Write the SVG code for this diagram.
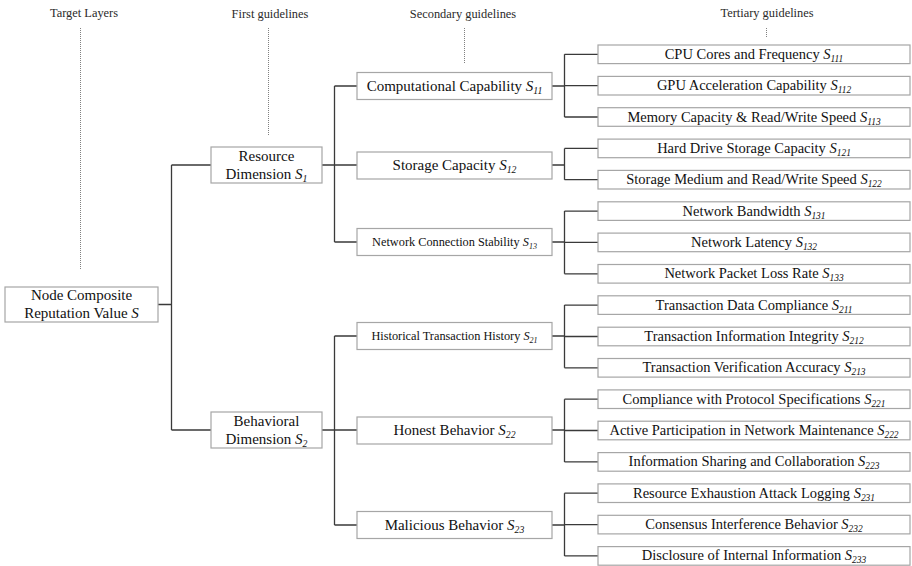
<svg xmlns="http://www.w3.org/2000/svg" width="912" height="566" viewBox="0 0 912 566">
<style>
  .bg { fill: #ffffff; }
  .box { fill: #ffffff; stroke: #a6a6a6; stroke-width: 1.2; }
  text { font-family: 'Liberation Serif', 'DejaVu Serif', 'Times New Roman', Times, serif; }
  .hdr { font-size: 12.4px; fill: #2a2a2a; text-anchor: middle; }
  .t { fill: #111111; text-anchor: middle; }
  .t3 { font-size: 14.5px; }
  .t2 { font-size: 15px; }
  .t2s { font-size: 12.3px; }
  .t1 { font-size: 15px; }
  .it { font-style: italic; }
  .sub { font-style: italic; font-size: 0.65em; }
  .dot { stroke: #808080; stroke-width: 1; stroke-dasharray: 1 1; fill: none; }
  .conn { stroke: #3a3a3a; stroke-width: 1.3; fill: none; }
</style>
<rect class="bg" x="0" y="0" width="912" height="566"/>

<g id="headers">
  <text class="hdr" x="84" y="17">Target Layers</text>
  <text class="hdr" x="270" y="18">First guidelines</text>
  <text class="hdr" x="463" y="18">Secondary guidelines</text>
  <text class="hdr" x="767" y="17">Tertiary guidelines</text>
  <line class="dot" x1="80.5" y1="28" x2="80.5" y2="270"/>
  <line class="dot" x1="268.5" y1="28" x2="268.5" y2="136"/>
  <line class="dot" x1="464.5" y1="28" x2="464.5" y2="63"/>
  <line class="dot" x1="766.5" y1="28" x2="766.5" y2="38"/>
</g>

<g id="connectors">
  <path class="conn" d="M158 304.5 H171.5 M171.5 165 V430 M171.5 165 H211 M171.5 430 H211"/>
  <path class="conn" d="M322 165 H334.5 M334.5 86 V242 M334.5 86 H357 M334.5 165 H357 M334.5 242 H357"/>
  <path class="conn" d="M322 430 H334.5 M334.5 336 V525 M334.5 336 H357 M334.5 430 H357 M334.5 525 H357"/>
  <path class="conn" d="M552 86 H564.5 M564.5 54.3 V117 M564.5 54.3 H598 M564.5 85.7 H598 M564.5 117 H598"/>
  <path class="conn" d="M552 165 H564.5 M564.5 148.4 V179.7 M564.5 148.4 H598 M564.5 179.7 H598"/>
  <path class="conn" d="M552 242 H564.5 M564.5 211.1 V273.8 M564.5 211.1 H598 M564.5 242.4 H598 M564.5 273.8 H598"/>
  <path class="conn" d="M552 336 H564.5 M564.5 305.1 V367.8 M564.5 305.1 H598 M564.5 336.5 H598 M564.5 367.8 H598"/>
  <path class="conn" d="M552 430 H564.5 M564.5 399.2 V461.9 M564.5 399.2 H598 M564.5 430.5 H598 M564.5 461.9 H598"/>
  <path class="conn" d="M552 525 H564.5 M564.5 493.2 V555.9 M564.5 493.2 H598 M564.5 524.6 H598 M564.5 555.9 H598"/>
</g>

<g id="root">
  <rect class="box" x="5" y="287" width="153" height="35"/>
  <text class="t t1" x="81.5" y="300">Node Composite</text>
  <text class="t t1" x="81.5" y="317.5">Reputation Value <tspan class="it">S</tspan></text>
</g>

<g id="S1">
  <rect class="box" x="211" y="147" width="111" height="36"/>
  <text class="t t1" x="266.5" y="161">Resource</text>
  <text class="t t1" x="266.5" y="179">Dimension <tspan class="it">S</tspan><tspan class="sub" dy="3">1</tspan></text>
</g>
<g id="S2">
  <rect class="box" x="211" y="412" width="111" height="36"/>
  <text class="t t1" x="266.5" y="426">Behavioral</text>
  <text class="t t1" x="266.5" y="444">Dimension <tspan class="it">S</tspan><tspan class="sub" dy="3">2</tspan></text>
</g>

<g id="S11">
  <rect class="box" x="357" y="72.5" width="195" height="27"/>
  <text class="t t2" x="454.5" y="90.5" font-size="14.2">Computational Capability <tspan class="it">S</tspan><tspan class="sub" dy="3">11</tspan></text>
</g>
<g id="S12">
  <rect class="box" x="357" y="152" width="195" height="27"/>
  <text class="t t2" x="454.5" y="170">Storage Capacity <tspan class="it">S</tspan><tspan class="sub" dy="3">12</tspan></text>
</g>
<g id="S13">
  <rect class="box" x="357" y="228.5" width="195" height="27"/>
  <text class="t t2s" x="454.5" y="246">Network Connection Stability <tspan class="it">S</tspan><tspan class="sub" dy="3">13</tspan></text>
</g>
<g id="S21">
  <rect class="box" x="357" y="322.5" width="195" height="27"/>
  <text class="t t2s" x="454.5" y="340">Historical Transaction History <tspan class="it">S</tspan><tspan class="sub" dy="3">21</tspan></text>
</g>
<g id="S22">
  <rect class="box" x="357" y="417" width="195" height="27"/>
  <text class="t t2" x="454.5" y="435">Honest Behavior <tspan class="it">S</tspan><tspan class="sub" dy="3">22</tspan></text>
</g>
<g id="S23">
  <rect class="box" x="357" y="511.5" width="195" height="27"/>
  <text class="t t2" x="454.5" y="529.5">Malicious Behavior <tspan class="it">S</tspan><tspan class="sub" dy="3">23</tspan></text>
</g>

<g id="S111"><rect class="box" x="598" y="45" width="312" height="18.6"/><text class="t t3" x="754" y="58.8">CPU Cores and Frequency <tspan class="it">S</tspan><tspan class="sub" dy="3">111</tspan></text></g>
<g id="S112"><rect class="box" x="598" y="76.4" width="312" height="18.6"/><text class="t t3" x="754" y="90.2">GPU Acceleration Capability <tspan class="it">S</tspan><tspan class="sub" dy="3">112</tspan></text></g>
<g id="S113"><rect class="box" x="598" y="107.7" width="312" height="18.6"/><text class="t t3" x="754" y="121.5">Memory Capacity &amp; Read/Write Speed <tspan class="it">S</tspan><tspan class="sub" dy="3">113</tspan></text></g>
<g id="S121"><rect class="box" x="598" y="139.1" width="312" height="18.6"/><text class="t t3" x="754" y="152.9">Hard Drive Storage Capacity <tspan class="it">S</tspan><tspan class="sub" dy="3">121</tspan></text></g>
<g id="S122"><rect class="box" x="598" y="170.4" width="312" height="18.6"/><text class="t t3" x="754" y="184.2">Storage Medium and Read/Write Speed <tspan class="it">S</tspan><tspan class="sub" dy="3">122</tspan></text></g>
<g id="S131"><rect class="box" x="598" y="201.8" width="312" height="18.6"/><text class="t t3" x="754" y="215.6">Network Bandwidth <tspan class="it">S</tspan><tspan class="sub" dy="3">131</tspan></text></g>
<g id="S132"><rect class="box" x="598" y="233.1" width="312" height="18.6"/><text class="t t3" x="754" y="246.9">Network Latency <tspan class="it">S</tspan><tspan class="sub" dy="3">132</tspan></text></g>
<g id="S133"><rect class="box" x="598" y="264.5" width="312" height="18.6"/><text class="t t3" x="754" y="278.3">Network Packet Loss Rate <tspan class="it">S</tspan><tspan class="sub" dy="3">133</tspan></text></g>
<g id="S211"><rect class="box" x="598" y="295.8" width="312" height="18.6"/><text class="t t3" x="754" y="309.6">Transaction Data Compliance <tspan class="it">S</tspan><tspan class="sub" dy="3">211</tspan></text></g>
<g id="S212"><rect class="box" x="598" y="327.2" width="312" height="18.6"/><text class="t t3" x="754" y="341">Transaction Information Integrity <tspan class="it">S</tspan><tspan class="sub" dy="3">212</tspan></text></g>
<g id="S213"><rect class="box" x="598" y="358.5" width="312" height="18.6"/><text class="t t3" x="754" y="372.3">Transaction Verification Accuracy <tspan class="it">S</tspan><tspan class="sub" dy="3">213</tspan></text></g>
<g id="S221"><rect class="box" x="598" y="389.9" width="312" height="18.6"/><text class="t t3" x="754" y="403.7">Compliance with Protocol Specifications <tspan class="it">S</tspan><tspan class="sub" dy="3">221</tspan></text></g>
<g id="S222"><rect class="box" x="598" y="421.2" width="312" height="18.6"/><text class="t t3" x="754" y="435">Active Participation in Network Maintenance <tspan class="it">S</tspan><tspan class="sub" dy="3">222</tspan></text></g>
<g id="S223"><rect class="box" x="598" y="452.6" width="312" height="18.6"/><text class="t t3" x="754" y="466.4">Information Sharing and Collaboration <tspan class="it">S</tspan><tspan class="sub" dy="3">223</tspan></text></g>
<g id="S231"><rect class="box" x="598" y="483.9" width="312" height="18.6"/><text class="t t3" x="754" y="497.7">Resource Exhaustion Attack Logging <tspan class="it">S</tspan><tspan class="sub" dy="3">231</tspan></text></g>
<g id="S232"><rect class="box" x="598" y="515.3" width="312" height="18.6"/><text class="t t3" x="754" y="529.1">Consensus Interference Behavior <tspan class="it">S</tspan><tspan class="sub" dy="3">232</tspan></text></g>
<g id="S233"><rect class="box" x="598" y="546.6" width="312" height="18.6"/><text class="t t3" x="754" y="560.4">Disclosure of Internal Information <tspan class="it">S</tspan><tspan class="sub" dy="3">233</tspan></text></g>
</svg>
